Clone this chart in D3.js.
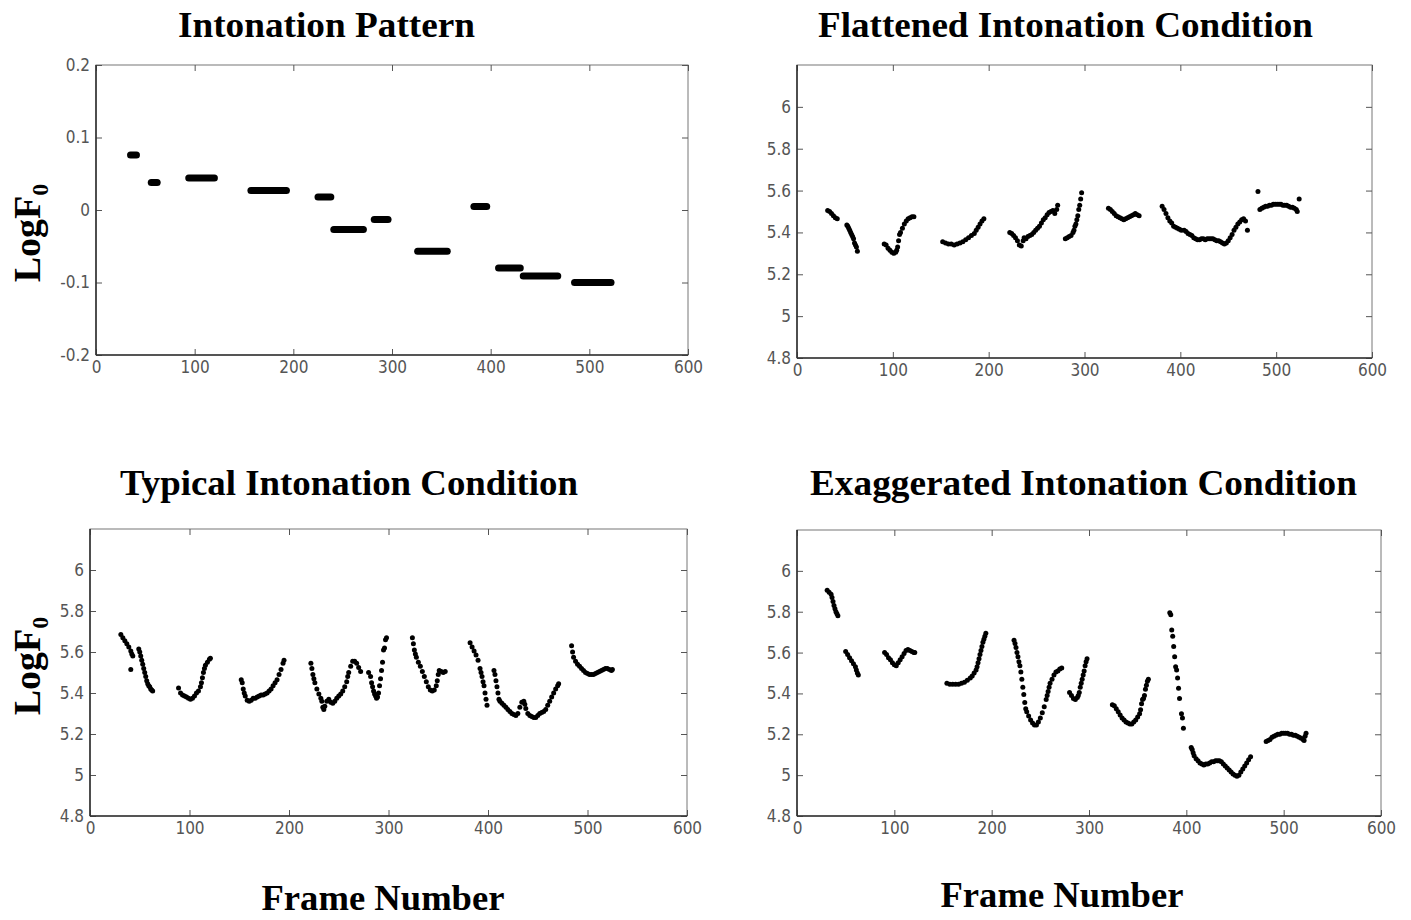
<!DOCTYPE html>
<html>
<head>
<meta charset="utf-8">
<script src="https://cdn.jsdelivr.net/npm/d3@7.9.0/dist/d3.min.js"></script>
<style>
  body { margin: 0; background: #fff; }
  svg { display: block; }
</style>
</head>
<body>
<svg id="chart" width="1411" height="920"></svg>
<script>
// Intonation pattern: flat segments (frame start, frame end, LogF0)
const patternStart = [35, 56, 94, 157, 225, 241, 282, 326, 383, 408, 433, 485];
const patternEnd   = [41, 62, 120, 193, 238, 271, 296, 356, 396, 430, 468, 522];
const patternValue = [0.076, 0.038, 0.044, 0.027, 0.018, -0.027, -0.013, -0.057, 0.005, -0.080, -0.091, -0.100];

// [frame, LogF0]
const flattened = [
  [32,5.505],[34,5.50],[36,5.49],[38,5.48],[40,5.47],[42,5.465],
  [52,5.435],[53,5.43],[54,5.42],[55,5.41],[56,5.40],[57,5.39],[58,5.38],[59,5.37],[60,5.35],[61,5.34],[62,5.33],[63,5.31],
  [91,5.345],[93,5.34],[95,5.325],[97,5.315],[99,5.305],[101,5.30],[103,5.305],[104,5.315],[105,5.33],[106,5.36],[107,5.39],[108,5.40],[110,5.42],[112,5.44],[114,5.455],[116,5.465],[118,5.47],[120,5.475],[122,5.475],
  [152,5.355],[155,5.35],[158,5.345],[161,5.345],[164,5.34],[167,5.345],[170,5.35],[173,5.355],[176,5.365],[179,5.375],[182,5.385],[185,5.395],[187,5.41],[189,5.425],[191,5.44],[193,5.455],[195,5.465],
  [222,5.40],[224,5.395],[226,5.385],[228,5.375],[230,5.36],[232,5.34],[234,5.335],[236,5.36],[237,5.375],[239,5.37],[241,5.38],[243,5.385],[245,5.39],[247,5.40],[249,5.41],[251,5.42],[253,5.43],[255,5.445],[257,5.46],[259,5.47],[261,5.485],[263,5.495],[265,5.50],[267,5.505],[269,5.49],[271,5.51],[272,5.53],
  [280,5.37],[282,5.375],[284,5.38],[286,5.385],[288,5.40],[289,5.41],[290,5.43],[291,5.44],[292,5.46],[293,5.48],[294,5.51],[295,5.53],[296,5.56],[297,5.59],
  [325,5.515],[327,5.51],[329,5.50],[331,5.49],[333,5.48],[335,5.475],[337,5.47],[339,5.465],[341,5.46],[343,5.465],[345,5.47],[347,5.475],[349,5.48],[351,5.485],[353,5.49],[355,5.485],[357,5.48],
  [381,5.525],[383,5.51],[385,5.49],[387,5.47],[389,5.455],[391,5.445],[393,5.43],[395,5.425],[397,5.42],[399,5.415],[401,5.41],[404,5.41],[406,5.405],[408,5.395],[410,5.39],[412,5.385],[414,5.375],[416,5.37],[418,5.365],[420,5.365],[422,5.37],[424,5.37],[426,5.365],[428,5.37],[430,5.37],[432,5.37],[434,5.37],[436,5.365],[438,5.36],[440,5.36],[442,5.355],[444,5.35],[446,5.345],[448,5.35],[450,5.36],[452,5.375],[454,5.39],[456,5.41],[458,5.425],[460,5.44],[462,5.45],[464,5.46],[466,5.465],[468,5.455],[470,5.41],
  [481,5.595],[483,5.51],[485,5.515],[487,5.52],[489,5.525],[491,5.525],[493,5.53],[495,5.53],[497,5.535],[499,5.535],[501,5.535],[503,5.535],[505,5.535],[507,5.53],[509,5.53],[511,5.53],[513,5.525],[515,5.52],[517,5.52],[519,5.515],[521,5.51],[522,5.50],[524,5.56]
];

const typical = [
  [31,5.685],[33,5.67],[35,5.655],[37,5.64],[39,5.625],[41,5.605],[42,5.59],[43,5.58],[41,5.515],
  [49,5.615],[50,5.60],[51,5.58],[52,5.56],[53,5.54],[54,5.52],[55,5.50],[56,5.48],[57,5.46],[58,5.445],[59,5.435],[60,5.43],[61,5.42],[62,5.415],[63,5.41],
  [89,5.425],[91,5.40],[93,5.39],[95,5.385],[97,5.38],[99,5.375],[101,5.37],[103,5.375],[105,5.385],[107,5.40],[109,5.41],[111,5.43],[112,5.45],[113,5.475],[114,5.50],[115,5.52],[116,5.535],[118,5.55],[120,5.565],[121,5.57],
  [152,5.465],[153,5.45],[154,5.42],[155,5.40],[156,5.385],[158,5.365],[160,5.36],[162,5.365],[164,5.375],[166,5.375],[168,5.38],[170,5.385],[172,5.39],[174,5.39],[176,5.395],[178,5.40],[180,5.41],[182,5.42],[184,5.435],[186,5.45],[188,5.465],[190,5.49],[192,5.515],[194,5.545],[195,5.56],
  [222,5.545],[223,5.52],[224,5.49],[225,5.47],[226,5.45],[228,5.42],[230,5.395],[232,5.375],[233,5.36],[234,5.33],[235,5.32],[236,5.335],[238,5.36],[240,5.37],[242,5.355],[244,5.35],[246,5.36],[248,5.375],[250,5.385],[252,5.395],[254,5.41],[256,5.43],[258,5.455],[259,5.48],[260,5.50],[262,5.53],[264,5.555],[266,5.555],[268,5.545],[270,5.525],[272,5.505],
  [280,5.50],[282,5.48],[283,5.45],[284,5.43],[285,5.41],[286,5.395],[287,5.385],[288,5.375],[289,5.38],[290,5.40],[291,5.435],[292,5.47],[293,5.51],[294,5.55],[295,5.61],[296,5.62],[297,5.66],[298,5.67],
  [324,5.67],[325,5.64],[326,5.61],[327,5.59],[328,5.575],[330,5.55],[332,5.53],[334,5.505],[336,5.48],[338,5.455],[340,5.43],[342,5.415],[344,5.41],[346,5.415],[348,5.435],[349,5.46],[350,5.49],[351,5.51],[353,5.505],[355,5.50],[357,5.505],
  [382,5.645],[384,5.625],[386,5.605],[388,5.585],[390,5.56],[392,5.52],[393,5.50],[394,5.48],[395,5.455],[396,5.435],[397,5.40],[398,5.37],[399,5.34],
  [406,5.51],[407,5.49],[408,5.46],[409,5.43],[410,5.40],[411,5.37],[412,5.36],[414,5.35],[416,5.34],[418,5.33],[420,5.32],[422,5.31],[424,5.30],[426,5.295],[428,5.29],[430,5.30],[432,5.33],[434,5.355],[436,5.36],[437,5.345],[438,5.325],[440,5.30],[442,5.29],[444,5.285],[446,5.28],[448,5.28],[450,5.29],[452,5.30],[454,5.305],[456,5.31],[458,5.32],[460,5.34],[462,5.36],[464,5.38],[466,5.40],[468,5.42],[470,5.435],[471,5.445],
  [484,5.63],[485,5.60],[486,5.575],[488,5.555],[490,5.54],[492,5.53],[494,5.52],[496,5.51],[498,5.50],[500,5.495],[502,5.49],[504,5.49],[506,5.49],[508,5.495],[510,5.50],[512,5.505],[514,5.51],[516,5.515],[518,5.52],[520,5.52],[522,5.515],[524,5.51],[525,5.515]
];

const exaggerated = [
  [31,5.905],[33,5.895],[35,5.885],[36,5.87],[37,5.85],[38,5.83],[39,5.815],[40,5.80],[41,5.79],[42,5.78],
  [50,5.605],[52,5.59],[54,5.575],[56,5.56],[58,5.545],[60,5.53],[61,5.515],[62,5.50],[63,5.49],
  [90,5.60],[92,5.59],[94,5.575],[96,5.565],[98,5.55],[100,5.54],[102,5.535],[104,5.55],[106,5.565],[108,5.58],[110,5.595],[112,5.61],[114,5.615],[116,5.61],[118,5.605],[120,5.60],[121,5.60],
  [154,5.45],[157,5.445],[160,5.445],[163,5.445],[166,5.445],[169,5.45],[172,5.455],[175,5.465],[178,5.475],[180,5.485],[182,5.50],[184,5.515],[185,5.53],[186,5.55],[187,5.57],[188,5.59],[189,5.61],[190,5.63],[191,5.65],[192,5.665],[193,5.68],[194,5.695],
  [223,5.66],[224,5.645],[225,5.625],[226,5.60],[227,5.58],[228,5.555],[229,5.535],[230,5.505],[231,5.47],[232,5.43],[233,5.395],[234,5.355],[235,5.325],[236,5.31],[238,5.29],[240,5.27],[242,5.255],[244,5.245],[246,5.245],[248,5.26],[250,5.28],[252,5.305],[254,5.335],[256,5.37],[257,5.39],[258,5.41],[259,5.43],[260,5.45],[262,5.47],[264,5.49],[266,5.505],[268,5.51],[270,5.52],[272,5.525],
  [280,5.405],[282,5.39],[284,5.375],[286,5.37],[288,5.38],[289,5.39],[290,5.405],[291,5.43],[292,5.45],[293,5.47],[294,5.49],[295,5.51],[296,5.535],[297,5.555],[298,5.57],
  [324,5.345],[326,5.34],[328,5.325],[330,5.31],[332,5.295],[334,5.28],[336,5.27],[338,5.26],[340,5.255],[342,5.25],[344,5.25],[346,5.26],[348,5.27],[350,5.285],[352,5.30],[353,5.32],[354,5.35],[355,5.37],[356,5.375],[357,5.39],[358,5.42],[359,5.44],[360,5.46],[361,5.47],
  [383,5.795],[384,5.785],[385,5.71],[386,5.68],[387,5.63],[388,5.58],[389,5.53],[390,5.515],[391,5.475],[392,5.425],[393,5.375],[395,5.30],[396,5.28],[397,5.23],
  [405,5.135],[406,5.125],[407,5.11],[408,5.095],[410,5.08],[412,5.07],[414,5.06],[416,5.055],[418,5.05],[420,5.055],[422,5.055],[424,5.06],[426,5.065],[428,5.065],[430,5.07],[432,5.07],[434,5.07],[436,5.065],[438,5.055],[440,5.045],[442,5.035],[444,5.025],[446,5.015],[448,5.005],[450,5.0],[452,4.995],[454,5.0],[456,5.015],[458,5.03],[460,5.045],[462,5.06],[464,5.075],[466,5.09],
  [482,5.165],[484,5.17],[486,5.175],[488,5.185],[490,5.19],[492,5.195],[494,5.20],[496,5.20],[498,5.205],[500,5.205],[502,5.205],[504,5.205],[506,5.20],[508,5.20],[510,5.195],[512,5.195],[514,5.19],[516,5.185],[518,5.18],[520,5.175],[521,5.17],[522,5.19],[523,5.205]
];

const xTicks = [0, 100, 200, 300, 400, 500, 600];
const patternTicks = [-0.2, -0.1, 0, 0.1, 0.2];
const logTicks = [4.8, 5, 5.2, 5.4, 5.6, 5.8, 6];

const panels = [
  { title: 'Intonation Pattern', tx: 326.5, ty: 37, tw: 297,
    left: 96, right: 688, top: 65, bottom: 355, yDomain: [-0.2, 0.2], yTicks: patternTicks },
  { title: 'Flattened Intonation Condition', tx: 1065.5, ty: 37, tw: 495,
    left: 797, right: 1372, top: 65, bottom: 358, yDomain: [4.8, 6.2], yTicks: logTicks, points: flattened },
  { title: 'Typical Intonation Condition', tx: 349, ty: 495, tw: 458,
    left: 90, right: 687, top: 529, bottom: 816, yDomain: [4.8, 6.2], yTicks: logTicks, points: typical },
  { title: 'Exaggerated Intonation Condition', tx: 1083.5, ty: 495, tw: 547,
    left: 797, right: 1381, top: 530, bottom: 816, yDomain: [4.8, 6.2], yTicks: logTicks, points: exaggerated },
];

const svg = d3.select('#chart');
svg.append('rect').attr('width', 1411).attr('height', 920).attr('fill', '#fff');

const serif = '"Liberation Serif", "Times New Roman", serif';
const tickFont = '"Liberation Sans Narrow", "DejaVu Sans Condensed", "Liberation Sans", sans-serif';
const fmt = d => String(+d.toFixed(1));

function styleAxis(g) {
  g.select('.domain').remove();
  g.selectAll('.tick line').attr('stroke', '#555');
  g.selectAll('.tick text')
    .attr('fill', '#555')
    .style('font-family', tickFont)
    .style('font-size', '17px');
}

panels.forEach(p => {
  const x = d3.scaleLinear().domain([0, 600]).range([p.left, p.right]);
  const y = d3.scaleLinear().domain(p.yDomain).range([p.bottom, p.top]);
  const g = svg.append('g');

  g.append('rect')
    .attr('x', p.left).attr('y', p.top)
    .attr('width', p.right - p.left).attr('height', p.bottom - p.top)
    .attr('fill', 'none').attr('stroke', '#777').attr('stroke-width', 1);

  g.append('g').attr('transform', `translate(0,${p.bottom})`)
    .call(d3.axisBottom(x).tickValues(xTicks).tickSize(-6).tickPadding(6).tickFormat(d3.format('d')))
    .call(styleAxis);
  g.append('g').attr('transform', `translate(0,${p.top})`)
    .call(d3.axisTop(x).tickValues(xTicks).tickSize(-6).tickFormat(''))
    .call(styleAxis);
  g.append('g').attr('transform', `translate(${p.left},0)`)
    .call(d3.axisLeft(y).tickValues(p.yTicks).tickSize(-6).tickPadding(6).tickFormat(fmt))
    .call(styleAxis);
  g.append('g').attr('transform', `translate(${p.right},0)`)
    .call(d3.axisRight(y).tickValues(p.yTicks).tickSize(-6).tickFormat(''))
    .call(styleAxis);

  // darker left / bottom axis lines
  g.append('line').attr('x1', p.left).attr('x2', p.right).attr('y1', p.bottom).attr('y2', p.bottom)
    .attr('stroke', '#333').attr('stroke-width', 1.6);
  g.append('line').attr('x1', p.left).attr('x2', p.left).attr('y1', p.top).attr('y2', p.bottom)
    .attr('stroke', '#333').attr('stroke-width', 1.6);

  if (p.points) {
    g.append('g').selectAll('circle')
      .data(p.points)
      .join('circle')
      .attr('cx', d => x(d[0]))
      .attr('cy', d => y(d[1]))
      .attr('r', 2.5)
      .attr('fill', '#000');
  } else {
    g.append('g').selectAll('line')
      .data(patternValue.map((v, k) => [patternStart[k], patternEnd[k], v]))
      .join('line')
      .attr('x1', d => x(d[0]))
      .attr('x2', d => x(d[1]))
      .attr('y1', d => y(d[2]))
      .attr('y2', d => y(d[2]))
      .attr('stroke', '#000')
      .attr('stroke-width', 7)
      .attr('stroke-linecap', 'round');
  }

  svg.append('text')
    .attr('x', p.tx).attr('y', p.ty)
    .attr('text-anchor', 'middle')
    .attr('textLength', p.tw).attr('lengthAdjust', 'spacingAndGlyphs')
    .style('font-family', serif).style('font-weight', 'bold').style('font-size', '36px')
    .text(p.title);
});

// y-axis labels
[233, 666].forEach(cy => {
  const t = svg.append('text')
    .attr('transform', `translate(40,${cy}) rotate(-90)`)
    .attr('text-anchor', 'middle')
    .style('font-family', serif).style('font-weight', 'bold').style('font-size', '38px');
  t.append('tspan').text('LogF');
  t.append('tspan').attr('dy', 8).style('font-size', '24px').text('0');
});

// x-axis labels
[[383, 910], [1062, 907]].forEach(([cx, cy]) => {
  svg.append('text')
    .attr('x', cx).attr('y', cy)
    .attr('text-anchor', 'middle')
    .attr('textLength', 243).attr('lengthAdjust', 'spacingAndGlyphs')
    .style('font-family', serif).style('font-weight', 'bold').style('font-size', '35px')
    .text('Frame Number');
});
</script>
</body>
</html>
